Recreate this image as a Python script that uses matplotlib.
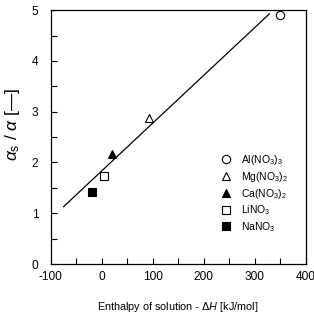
import numpy as np
import matplotlib.pyplot as plt
from matplotlib.ticker import MultipleLocator

plt.rcParams['font.family'] = ['Liberation Sans', 'DejaVu Sans']
plt.rcParams['mathtext.fontset'] = 'custom'
plt.rcParams['mathtext.rm'] = 'Liberation Sans'
plt.rcParams['mathtext.it'] = 'Liberation Sans:italic'
plt.rcParams['axes.unicode_minus'] = False

salts = ['Al(NO$_3$)$_3$', 'Mg(NO$_3$)$_2$', 'Ca(NO$_3$)$_2$', 'LiNO$_3$', 'NaNO$_3$']
dH = [350, 92, 20, 4, -20]
ratio = [4.9, 2.88, 2.17, 1.73, 1.42]
markers = ['o', '^', '^', 's', 's']
filled = [False, False, True, False, True]

fit_x = [-75, 329]
slope = 0.0094
intercept = 1.835

fig = plt.figure(figsize=(3.14, 3.13), dpi=100)
ax = fig.add_axes([0.162, 0.1565, 0.811, 0.811])

fx = np.array(fit_x)
ax.plot(fx, slope * fx + intercept, color='black', lw=0.9)

for s, x, y, m, f in zip(salts, dH, ratio, markers, filled):
    ax.plot(x, y, m, ms=6, mfc='black' if f else 'white',
            mec='black', mew=0.8, label=s, clip_on=False)

ax.set_xlim(-100, 400)
ax.set_ylim(0, 5)
ax.xaxis.set_major_locator(MultipleLocator(100))
ax.xaxis.set_minor_locator(MultipleLocator(50))
ax.yaxis.set_major_locator(MultipleLocator(1))
ax.yaxis.set_minor_locator(MultipleLocator(0.5))
ax.tick_params(which='both', direction='in', length=4, width=0.8, labelsize=8.6)
ax.tick_params(axis='x', pad=5)
ax.tick_params(axis='y', pad=9)
for sp in ax.spines.values():
    sp.set_linewidth(0.9)

ax.set_xlabel(r'Enthalpy of solution - $\mathit{\Delta H}$ [kJ/mol]', fontsize=7.8, labelpad=12)
ax.set_ylabel(r'$\alpha_{\rm s}$ / $\alpha$ [—]', fontsize=12.5)
ax.yaxis.set_label_coords(-0.112, 0.55)

ax.legend(loc='upper left', bbox_to_anchor=(0.625, 0.474), frameon=False, fontsize=7.5,
          handletextpad=0.9, labelspacing=0.27, numpoints=1, handlelength=1.2)

fig.savefig('out.png', dpi=100)
